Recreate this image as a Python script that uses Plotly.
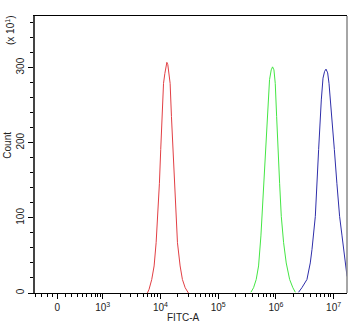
import plotly.graph_objects as go

# FITC-A intensity (x) and count in units of 10^1 (y)
red_x = [5940, 6350, 7060, 7760, 8410, 8970, 9590, 10100, 10700, 11300, 11900, 12500, 12900,
         13400, 13900, 14700, 15500, 16400, 17500, 18400, 19700, 21900, 24000, 26800, 30500]
red_y = [0, 5, 18, 36, 67, 102, 146, 191, 235, 279, 292, 304, 307,
         304, 292, 279, 235, 191, 146, 102, 67, 36, 18, 7, 0]

green_x = [369000, 410000, 456000, 501000, 550000, 596000, 637000, 681000, 728000, 776000, 830000,
           875000, 925000, 975000, 1030000, 1080000, 1160000, 1240000, 1360000, 1510000, 1730000,
           1970000, 2170000]
green_y = [1, 7, 18, 36, 76, 124, 169, 213, 257, 284, 297,
           301, 297, 279, 235, 191, 146, 102, 67, 40, 18,
           7, 1]

blue_x = [2470000, 2820000, 3450000, 3940000, 4220000, 4820000, 5500000, 5870000, 6120000, 6550000,
          6980000, 7380000, 7890000, 8320000, 9380000, 10300000, 11400000, 12700000, 14000000,
          15500000, 17100000]
blue_y = [1, 7, 18, 40, 58, 102, 191, 235, 257, 286,
          295, 298, 293, 279, 235, 191, 146, 102, 76,
          45, 22]

x_tick_labels = ["0", "10<sup>3</sup>", "10<sup>4</sup>", "10<sup>5</sup>", "10<sup>6</sup>", "10<sup>7</sup>"]
y_tick_values = [0, 100, 200, 300]

# axis layout (biexponential-like display; "0" mark sits left of 10^3)
zero_pos = 10 ** 2.212
x_tick_pos = [zero_pos, 1e3, 1e4, 1e5, 1e6, 1e7]
minor_low = [10 ** d for d in (1.843, 1.942, 2.039, 2.133, 2.346, 2.462, 2.559, 2.653,
                               2.722, 2.809, 2.866, 2.913, 2.953)]
minor_high = [m * 10 ** e for e in range(3, 8) for m in range(2, 10) if m * 10 ** e < 10 ** 7.23]
x_minor = minor_low + minor_high

font = "Liberation Sans, Arial, sans-serif"

fig = go.Figure()
for xs, ys, col in [(red_x, red_y, "#e23f44"), (green_x, green_y, "#44e644"), (blue_x, blue_y, "#2e2eaa")]:
    fig.add_trace(go.Scatter(x=xs, y=ys, mode="lines", line=dict(color=col, width=1), hoverinfo="skip"))

fig.update_layout(
    width=350, height=326,
    margin=dict(l=35, r=3, t=16, b=33),
    paper_bgcolor="white", plot_bgcolor="white",
    showlegend=False,
    font=dict(family=font, size=10, color="#222"),
)
fig.update_xaxes(
    type="log", range=[1.826, 7.232],
    tickmode="array", tickvals=x_tick_pos, ticktext=x_tick_labels,
    ticks="outside", ticklen=5, tickcolor="black", tickwidth=1,
    minor=dict(tickmode="array", tickvals=x_minor, ticks="outside", ticklen=3, tickcolor="black", tickwidth=1),
    showline=True, linecolor="black", linewidth=1, mirror=True,
    showgrid=False, zeroline=False,
    tickfont=dict(size=10, color="#222"),
)
fig.update_yaxes(
    range=[0, 368.7],
    tickmode="array", tickvals=y_tick_values,
    tickangle=-90,
    ticks="outside", ticklen=5, tickcolor="black", tickwidth=1,
    minor=dict(dtick=20, ticks="outside", ticklen=3, tickcolor="black", tickwidth=1),
    showline=True, linecolor="#444", linewidth=1.5,
    showgrid=False, zeroline=False,
    tickfont=dict(size=10, color="#222"),
)
fig.add_shape(type="line", xref="paper", yref="paper", x0=1, x1=1, y0=0, y1=1,
              line=dict(color="#888", width=1.5))

fig.add_annotation(text="(x 10<sup>1</sup>)", xref="paper", yref="paper", x=-0.080, y=0.946,
                   textangle=-90, showarrow=False, xanchor="center", yanchor="middle",
                   font=dict(size=10, color="#222"))
fig.add_annotation(text="Count", xref="paper", yref="paper", x=-0.087, y=0.535,
                   textangle=-90, showarrow=False, xanchor="center", yanchor="middle",
                   font=dict(size=10, color="#222"))
fig.add_annotation(text="FITC-A", xref="paper", yref="paper", x=0.475, y=-0.088,
                   showarrow=False, xanchor="center", yanchor="middle",
                   font=dict(size=10, color="#222"))

fig.write_html("out.html", config={"displayModeBar": False},
               post_script="document.body.style.margin='0px';document.body.style.padding='0px';")
